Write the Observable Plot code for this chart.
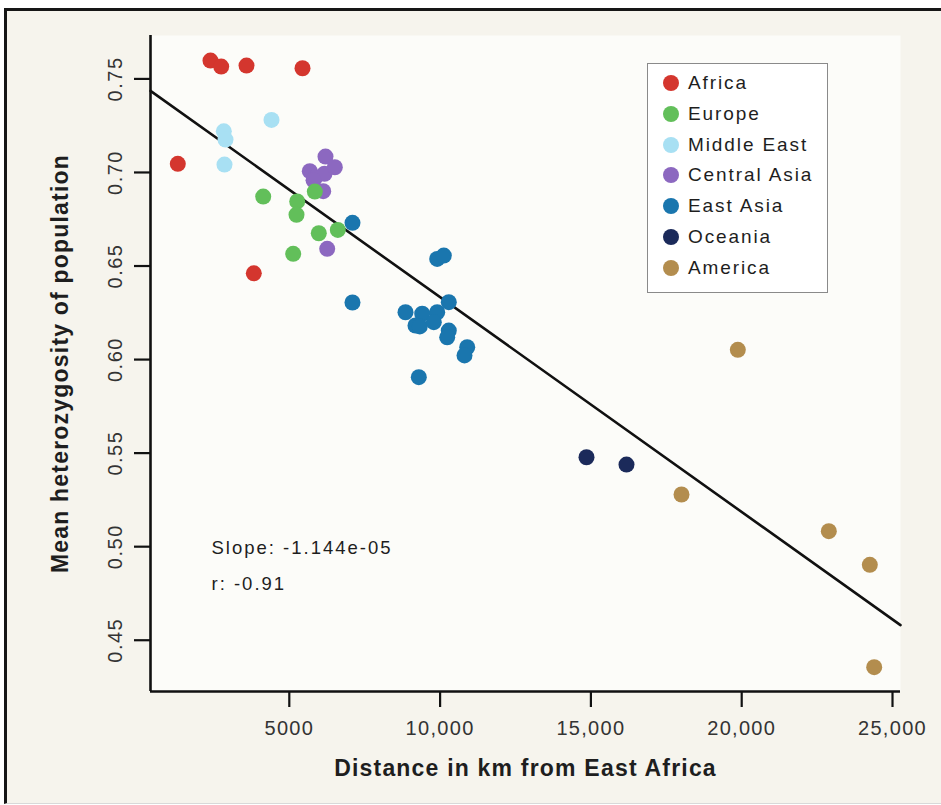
<!DOCTYPE html>
<html>
<head>
<meta charset="utf-8">
<script src="https://cdn.jsdelivr.net/npm/d3@7"></script>
<script src="https://cdn.jsdelivr.net/npm/@observablehq/plot@0.6"></script>
<style>
  html, body { margin: 0; padding: 0; background: #ffffff; width: 941px; height: 805px; overflow: hidden; }
  #frame { position: absolute; left: 4px; top: 8px; width: 937px; height: 792px; background: #f6f4ed;
           border-top: 3px solid #161616; border-left: 3px solid #161616; border-bottom: 1px solid #d9d9d9; }
  #chart { position: absolute; left: 0; top: 0; }
  #chart g[aria-label="x-axis tick label"] text { letter-spacing: 1.3px; }
  #chart g[aria-label="y-axis tick label"] text { letter-spacing: 1.5px; }
  #chart .note text { letter-spacing: 2px; }
  #chart .title text { letter-spacing: 1.2px; }
  #legend { position: absolute; left: 647px; top: 63px; width: 181px; height: 230px; box-sizing: border-box;
            border: 1px solid #8a8a8a; background: #ffffff; font-family: "Liberation Sans", Arial, sans-serif; }
  .item { position: absolute; left: 15px; height: 30px; display: flex; align-items: center; }
  .sw { width: 16px; height: 16px; border-radius: 50%; margin-right: 9px; }
  .lab { font-size: 19px; letter-spacing: 1.9px; color: #1e1e1e; }
</style>
</head>
<body>
<div id="frame"></div>
<div id="chart"></div>
<div id="legend"></div>
<script>
// ---- categories & colours ----
const regions = ["Africa", "Europe", "Middle East", "Central Asia", "East Asia", "Oceania", "America"];
const regionColors = ["#d4362e", "#62bf5a", "#a8e0f3", "#8c68c0", "#1a76ae", "#1b2a5a", "#b38d4e"];

// ---- series values (distance km, mean heterozygosity) ----
const africaKm = [2387, 2742, 3581, 5438, 1303, 3823];
const africaHet = [0.7598, 0.7566, 0.7571, 0.7557, 0.7046, 0.6461];
const middleEastKm = [2828, 2885, 2851, 4410];
const middleEastHet = [0.7220, 0.7176, 0.7042, 0.7281];
const centralAsiaKm = [5680, 5869, 6167, 6200, 6509, 6124, 6257, 5803];
const centralAsiaHet = [0.7007, 0.6975, 0.6993, 0.7085, 0.7028, 0.6900, 0.6592, 0.6958];
const europeKm = [4135, 5262, 5239, 5846, 5978, 6608, 5129];
const europeHet = [0.6871, 0.6845, 0.6774, 0.6898, 0.6675, 0.6693, 0.6565];
const eastAsiaKm = [7095, 7095, 9904, 10123, 8853, 9407, 9184, 9327, 9904, 10288, 9791, 10288, 10235, 10899, 10809, 9294];
const eastAsiaHet = [0.6731, 0.6305, 0.6538, 0.6556, 0.6253, 0.6245, 0.6182, 0.6177, 0.6253, 0.6307, 0.6200, 0.6155, 0.6119, 0.6066, 0.6022, 0.5906];
const oceaniaKm = [14854, 16180];
const oceaniaHet = [0.5478, 0.5439];
const americaKm = [19871, 18004, 22888, 24248, 24393];
const americaHet = [0.6052, 0.5279, 0.5083, 0.4903, 0.4356];

// ---- regression line (end points) ----
const regressionKm = [398, 25265];
const regressionHet = [0.7436, 0.4581];
const slopeText = "Slope: -1.144e-05";
const rText = "r: -0.91";

// ---- axes ----
const xDomain = [398, 25265];
const yDomain = [0.4226, 0.7732];
const xTicks = [5000, 10000, 15000, 20000, 25000];
const xTickLabels = ["5000", "10,000", "15,000", "20,000", "25,000"];
const yTicks = [0.45, 0.50, 0.55, 0.60, 0.65, 0.70, 0.75];
const yTickLabels = ["0.45", "0.50", "0.55", "0.60", "0.65", "0.70", "0.75"];
const xTitle = "Distance in km from East Africa";
const yTitle = "Mean heterozygosity of population";

// build table
const groups = [
  ["Africa", africaKm, africaHet],
  ["Middle East", middleEastKm, middleEastHet],
  ["Central Asia", centralAsiaKm, centralAsiaHet],
  ["Europe", europeKm, europeHet],
  ["East Asia", eastAsiaKm, eastAsiaHet],
  ["Oceania", oceaniaKm, oceaniaHet],
  ["America", americaKm, americaHet]
];
const points = groups.flatMap(([region, ks, hs]) => ks.map((k, i) => ({region, km: k, het: hs[i]})));
const regression = regressionKm.map((k, i) => ({km: k, het: regressionHet[i]}));

const font = '"Liberation Sans", Arial, sans-serif';

const chart = Plot.plot({
  width: 941,
  height: 805,
  marginLeft: 150,
  marginRight: 41,
  marginTop: 35,
  marginBottom: 114,
  style: {background: "transparent", fontFamily: font, color: "#2a2a2a"},
  x: {domain: xDomain},
  y: {domain: yDomain},
  color: {domain: regions, range: regionColors},
  marks: [
    Plot.frame({fill: "#fcfcf9", stroke: "none"}),
    Plot.line(regression, {x: "km", y: "het", stroke: "#111", strokeWidth: 2.6}),
    Plot.dot(points, {x: "km", y: "het", r: 8, fill: "region"}),
    Plot.ruleX([xDomain[0]], {stroke: "#111", strokeWidth: 2.6}),
    Plot.ruleY([yDomain[0]], {stroke: "#111", strokeWidth: 2.6}),
    Plot.axisX({ticks: xTicks, tickFormat: d => xTickLabels[xTicks.indexOf(d)], tickSize: 16, tickPadding: 13,
                strokeWidth: 2.2, stroke: "#111", fontSize: 20, fill: "#333", label: null}),
    Plot.axisY({ticks: yTicks, tickFormat: d => yTickLabels[yTicks.indexOf(d)], tickSize: 16, tickRotate: -90, tickPadding: 13,
                strokeWidth: 2.2, stroke: "#111", fontSize: 20, fill: "#333", label: null}),
    Plot.text([xTitle], {frameAnchor: "bottom", dy: 84, textAnchor: "middle", fontSize: 23, fontWeight: "bold", fill: "#1e1e1e", text: d => d, className: "title"}),
    Plot.text([yTitle], {frameAnchor: "left", dx: -90, rotate: -90, textAnchor: "middle", fontSize: 23, fontWeight: "bold", fill: "#1e1e1e", text: d => d, className: "title"}),
    Plot.text([slopeText], {frameAnchor: "top-left", dx: 61, dy: 505.5, textAnchor: "start", fontSize: 18.5, fill: "#1e1e1e", text: d => d, className: "note"}),
    Plot.text([rText], {frameAnchor: "top-left", dx: 61, dy: 541.7, textAnchor: "start", fontSize: 18.5, fill: "#1e1e1e", text: d => d, className: "note"})
  ]
});
document.getElementById("chart").appendChild(chart);

// legend
const legend = d3.select("#legend");
regions.forEach((r, i) => {
  const item = legend.append("div").attr("class", "item").style("top", (4 + i * 30.8) + "px");
  item.append("div").attr("class", "sw").style("background", regionColors[i]);
  item.append("div").attr("class", "lab").text(r);
});
</script>
</body>
</html>
